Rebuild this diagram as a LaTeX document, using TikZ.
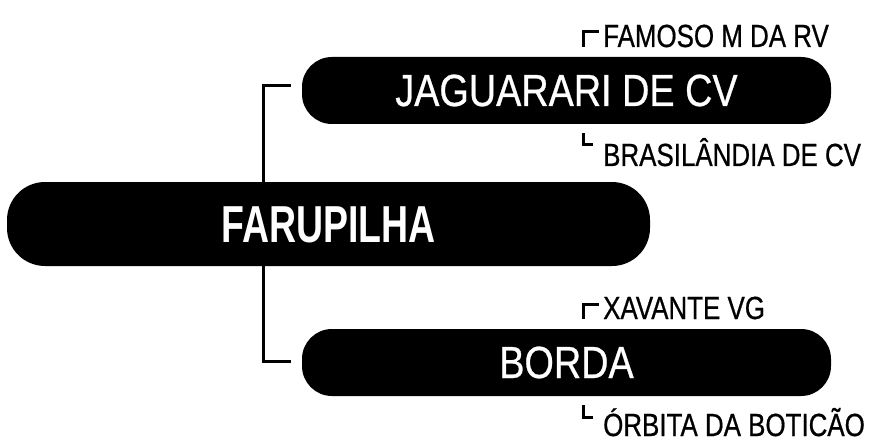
\documentclass[tikz,border=0pt]{standalone}
\usepackage{fontspec}
\setmainfont{Liberation Sans}[FakeStretch=0.84, FakeBold=0.6, BoldFeatures={FakeStretch=0.72, FakeBold=0}]
\newfontfamily\leaffont{Liberation Sans}[FakeStretch=0.81, FakeBold=0.6]
\tikzset{
  link/.style={line width=3pt},
  tick/.style={line width=3pt},
}

\begin{document}
\begin{tikzpicture}[
  x=1pt, y=-1pt,
  pill/.style={fill=black, text=white, inner sep=0pt, text depth=0pt, align=center},
  root/.style={pill, minimum width=643pt, minimum height=84pt, rounded corners=38pt, text height=36pt, font=\fontsize{52}{52}\selectfont\bfseries},
  branch/.style={pill, minimum width=529pt, minimum height=67pt, rounded corners=30pt, text height=31pt, font=\fontsize{45}{45}\selectfont},
  leaf/.style={anchor=base west, inner sep=0pt, text depth=0pt, font=\leaffont\fontsize{32}{32}\selectfont}
]
\useasboundingbox (0,0) rectangle (873,441);
\node[branch] (jag) at (566.5,90.5) {JAGUARARI DE CV};
\node[branch] (bor) at (566.5,362.5) {BORDA};
\coordinate (fork) at (263,224);
\draw[link, shorten <=11pt, shorten >=11pt] ([yshift=4.5pt]jag.west) -| (fork) |- ([yshift=1.5pt]bor.west);
\node[root] (far) at (328.5,224) {FARUPILHA};

% leaves of the two branches
\node[leaf] (fam) at (603,47) {FAMOSO M DA RV};
\node[leaf] (bra) at (603,166) {BRASILÂNDIA DE CV};
\node[leaf] (xav) at (603,319) {XAVANTE VG};
\node[leaf] (orb) at (603,436) {ÓRBITA DA BOTICÃO};
\draw[tick] ([xshift=-20pt]fam.base west) |- ([xshift=-4pt,yshift=15pt]fam.base west);
\draw[tick] ([xshift=-20pt]xav.base west) |- ([xshift=-4pt,yshift=15pt]xav.base west);
\draw[tick] ([xshift=-20pt,yshift=33pt]bra.base west) |- ([xshift=-10pt,yshift=21pt]bra.base west);
\draw[tick] ([xshift=-20pt,yshift=31pt]orb.base west) |- ([xshift=-10pt,yshift=19pt]orb.base west);
\end{tikzpicture}
\end{document}
